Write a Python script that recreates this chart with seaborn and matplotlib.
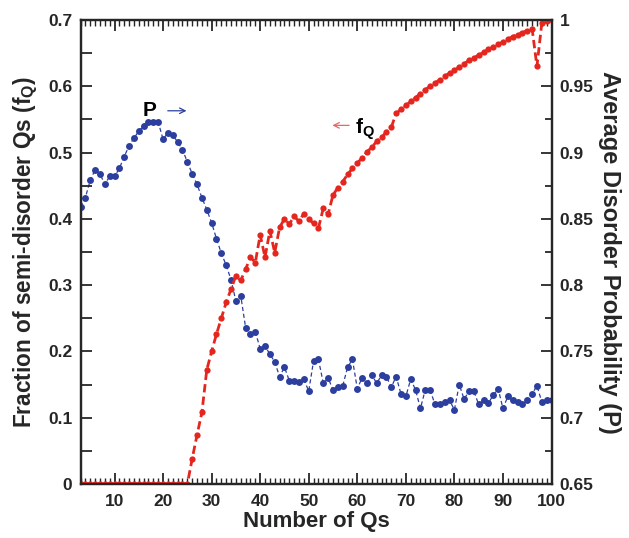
import numpy as np
import pandas as pd
import matplotlib
matplotlib.use("Agg")
import matplotlib.pyplot as plt
from matplotlib.ticker import MultipleLocator, FixedLocator, FuncFormatter
import seaborn as sns

# ---- data ----
n_qs = list(range(3, 101))
f_q = [0.0] * 23 + [
    0.038, 0.074, 0.108, 0.172, 0.200,
    0.226, 0.250, 0.274, 0.294, 0.314, 0.307, 0.324, 0.342, 0.334, 0.376,
    0.342, 0.382, 0.349, 0.387, 0.400, 0.392, 0.404, 0.396, 0.408, 0.400,
    0.393, 0.386, 0.416, 0.407, 0.436, 0.447, 0.456, 0.467, 0.476, 0.484,
    0.492, 0.501, 0.508, 0.517, 0.523, 0.531, 0.538, 0.559, 0.565, 0.571,
    0.577, 0.583, 0.589, 0.595, 0.600, 0.605, 0.610, 0.615, 0.620, 0.624,
    0.629, 0.634, 0.639, 0.643, 0.647, 0.651, 0.656, 0.659, 0.663, 0.667,
    0.671, 0.675, 0.678, 0.681, 0.684, 0.687, 0.630, 0.695, 0.698, 0.700]
p_avg = [
    0.859, 0.866, 0.879, 0.887, 0.884, 0.876, 0.882, 0.882, 0.888, 0.897,
    0.905, 0.911, 0.916, 0.920, 0.923, 0.923, 0.923, 0.910, 0.915, 0.913,
    0.908, 0.902, 0.893, 0.884, 0.876, 0.866, 0.857, 0.847, 0.835, 0.824,
    0.815, 0.804, 0.788, 0.792, 0.768, 0.763, 0.765, 0.752, 0.754, 0.748,
    0.742, 0.731, 0.738, 0.728, 0.728, 0.727, 0.729, 0.720, 0.743, 0.744,
    0.726, 0.730, 0.721, 0.723, 0.724, 0.738, 0.744, 0.722, 0.730, 0.726,
    0.732, 0.726, 0.732, 0.731, 0.723, 0.731, 0.718, 0.716, 0.729, 0.721,
    0.707, 0.721, 0.721, 0.710, 0.710, 0.712, 0.713, 0.706, 0.725, 0.714,
    0.720, 0.720, 0.710, 0.713, 0.711, 0.717, 0.722, 0.707, 0.716, 0.713,
    0.712, 0.710, 0.713, 0.718, 0.724, 0.712, 0.713, 0.713]
left_ticks = [0, 0.1, 0.2, 0.3, 0.4, 0.5, 0.6, 0.7]
right_ticks = [0.65, 0.7, 0.75, 0.8, 0.85, 0.9, 0.95, 1.0]
x_ticks = [10, 20, 30, 40, 50, 60, 70, 80, 90, 100]

df = pd.DataFrame({"n": n_qs, "fq": f_q, "p": p_avg})

RED = "#e5261f"
BLUE = "#2c3f9f"

sns.set_style("ticks")
plt.rcParams["font.family"] = ["Liberation Sans", "DejaVu Sans"]
plt.rcParams["font.weight"] = "bold"
plt.rcParams["axes.labelweight"] = "bold"
plt.rcParams["mathtext.fontset"] = "custom"
plt.rcParams["mathtext.rm"] = "Liberation Sans:bold"
plt.rcParams["mathtext.it"] = "Liberation Sans:bold"
plt.rcParams["mathtext.bf"] = "Liberation Sans:bold"
plt.rcParams["mathtext.default"] = "bf"
plt.rcParams["lines.scale_dashes"] = False

fig = plt.figure(figsize=(6.29, 5.38), dpi=100)
ax = fig.add_axes([0.128, 0.1004, 0.7488, 0.8625])
ax2 = ax.twinx()

sns.lineplot(data=df, x="n", y="fq", ax=ax, color=RED, marker="o",
             markersize=4.5, markeredgewidth=0, linewidth=2.0)
ax.lines[-1].set_dashes([6, 3])

sns.lineplot(data=df, x="n", y="p", ax=ax2, color=BLUE, marker="o",
             markersize=5, markeredgewidth=0, linewidth=0.9)
ax2.lines[-1].set_dashes([3, 2])

ax.set_zorder(ax2.get_zorder() + 1)
ax.patch.set_visible(False)

ax.set_xlim(3, 100)
ax.set_ylim(0, 0.7)
ax2.set_ylim(0.65, 1.0)

fmt = FuncFormatter(lambda v, p: ("%g" % round(v, 3)))
ax.xaxis.set_major_locator(FixedLocator(x_ticks))
ax.xaxis.set_minor_locator(MultipleLocator(1))
ax.yaxis.set_major_locator(FixedLocator(left_ticks))
ax.yaxis.set_minor_locator(MultipleLocator(0.05))
ax.yaxis.set_major_formatter(fmt)
ax2.yaxis.set_major_locator(FixedLocator(right_ticks))
ax2.yaxis.set_minor_locator(MultipleLocator(0.025))
ax2.yaxis.set_major_formatter(fmt)

ax.tick_params(axis="x", which="major", direction="in", top=True, length=8,
               width=1.3, labelsize=12.5, pad=7)
ax.tick_params(axis="x", which="minor", direction="in", top=True, length=4.5,
               width=1.0)
ax.tick_params(axis="y", which="both", direction="in", length=8, width=1.3,
               labelsize=12.5, pad=6, right=False)
ax2.tick_params(axis="y", which="major", direction="in", length=8, width=1.3,
                labelsize=12.5, pad=6)
ax2.tick_params(axis="y", which="minor", direction="in", length=5, width=1.3)

for a in (ax, ax2):
    for s in a.spines.values():
        s.set_linewidth(1.6)
        s.set_visible(True)

ax.set_xlabel("Number of Qs", fontsize=16, fontweight="bold", labelpad=2)
ax.set_ylabel("Fraction of semi-disorder Qs ($f_Q$)", fontsize=16.3,
              fontweight="bold", labelpad=6)
ax2.set_ylabel("Average Disorder Probability (P)", fontsize=17,
               fontweight="bold", rotation=270, labelpad=20)

ax.text(17.3, 0.563, "P", fontsize=15, fontweight="bold", ha="center",
        va="center", color="black")
ax.annotate("", xy=(25.4, 0.563), xytext=(20.4, 0.563),
            arrowprops=dict(arrowstyle="->", color=BLUE, lw=0.9))
ax.text(59.6, 0.535, "$f_Q$", fontsize=15, ha="left", va="center",
        color="black")
ax.annotate("", xy=(54.3, 0.541), xytext=(58.9, 0.541),
            arrowprops=dict(arrowstyle="->", color="#e8675e", lw=0.9))

fig.savefig("out.png", dpi=100)
